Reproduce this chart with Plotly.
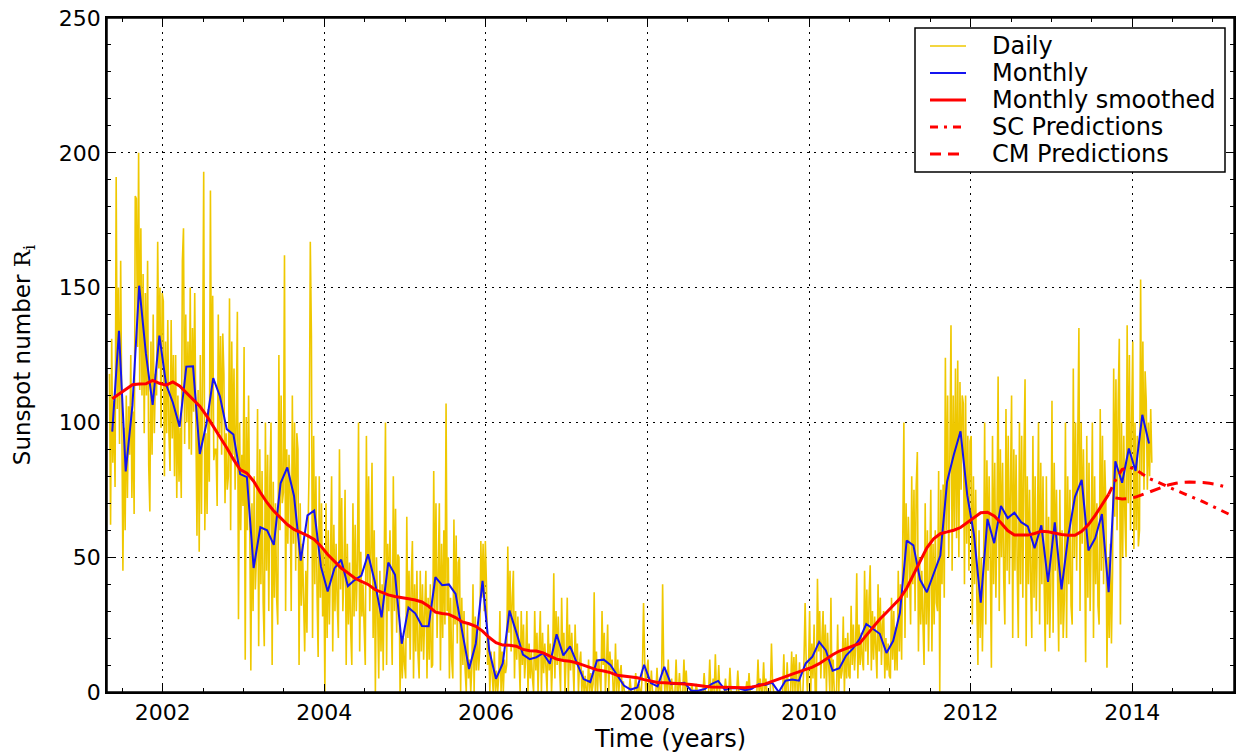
import plotly.graph_objects as go

# ---------------- data ----------------
# Daily values: 6 samples per month, months listed in order
daily_2001 = [118, 62, 131, 85, 108, 76,  191, 105, 150, 92, 160, 106,  45, 98, 60, 110, 72, 106,
              88, 125, 72, 104, 66, 184,  183, 128, 200, 112, 172, 110,  155, 96, 148, 110, 160, 84,
              67, 130, 88, 140, 96, 118,  110, 167, 120, 150, 98, 148]
daily_2002 = [145, 80, 130, 96, 138, 96,  82, 138, 94, 125, 80, 125,  72, 110, 78, 98, 72, 160,
              172, 92, 140, 100, 130, 90,  150, 88, 135, 104, 148, 100,  58, 112, 52, 125, 66, 117,
              193, 60, 96, 66, 105, 78,  186, 100, 147, 86, 90, 90,  69, 140, 96, 132, 88, 133,
              118, 70, 96, 75, 80, 146,  60, 130, 88, 120, 75, 100,  141, 27, 100, 60, 88, 69]
daily_2003 = [128, 12, 102, 60, 110, 66,  8, 70, 30, 80, 38, 50,  105, 17, 90, 40, 82, 33,
              17, 100, 45, 88, 30, 80,  100, 10, 78, 35, 70, 35,  25, 125, 60, 110, 70, 74,
              162, 30, 90, 55, 88, 75,  30, 110, 55, 100, 45, 96,  90, 10, 70, 32, 55, 35,
              15, 45, 22, 60, 84, 167,  132, 20, 95, 40, 80, 37,  13, 80, 35, 70, 28, 53]
daily_2004 = [0, 70, 20, 60, 25, 49,  80, 15, 62, 30, 55, 33,  20, 90, 38, 72, 30, 45,
              75, 10, 55, 25, 48, 23,  10, 70, 28, 62, 30, 49,  100, 15, 52, 28, 40, 24,
              10, 95, 40, 80, 30, 52,  85, 20, 60, 0, 50, 30,  5, 45, 15, 40, 8, 53,
              100, 10, 55, 30, 60, 33,  10, 80, 30, 68, 22, 51,  50, 0, 22, 5, 20, 10]
daily_2005 = [5, 65, 20, 45, 12, 41,  56, 5, 40, 15, 45, 14,  5, 45, 15, 40, 12, 30,
              45, 5, 35, 12, 40, 9,  10, 82, 30, 70, 20, 44,  70, 8, 55, 20, 60, 25,
              107, 30, 50, 5, 35, 12,  5, 64, 25, 58, 18, 48,  50, 0, 35, 10, 30, 8,
              0, 25, 5, 12, 0, 9,  40, 0, 28, 8, 24, 8,  15, 56, 35, 55, 30, 56]
daily_2006 = [40, 10, 20, 0, 15, 7,  0, 15, 0, 8, 0, 6,  30, 0, 15, 0, 12, 7,
              10, 54, 22, 45, 15, 35,  45, 5, 30, 12, 28, 14,  0, 30, 10, 25, 5, 13,
              30, 0, 18, 5, 15, 5,  0, 30, 8, 22, 0, 17,  30, 0, 22, 7, 18, 9,
              0, 25, 8, 18, 0, 12,  44, 5, 30, 10, 28, 11,  0, 35, 12, 22, 0, 13]
daily_2007 = [35, 0, 25, 8, 22, 11,  0, 25, 10, 18, 0, 11,  15, 0, 8, 0, 6, 0,
              0, 12, 0, 7, 0, 3,  37, 0, 15, 0, 12, 6,  0, 30, 10, 22, 0, 10,
              25, 0, 15, 8, 12, 0,  0, 18, 0, 12, 0, 7,  10, 0, 4, 0, 0, 0,
              0, 0, 5, 0, 0, 0,  0, 7, 0, 0, 3, 0,  0, 8, 33, 12, 0, 8]
daily_2008 = [12, 0, 0, 8, 0, 0,  0, 0, 9, 0, 4, 0,  0, 40, 8, 0, 8, 0,
              12, 0, 0, 5, 0, 0,  0, 12, 0, 0, 7, 0,  0, 0, 12, 0, 8, 0,
              0, 0, 0, 3, 0, 0,  0, 3, 0, 0, 0, 0,  0, 0, 7, 0, 0, 0,
              0, 12, 0, 0, 5, 0,  14, 0, 0, 10, 0, 0,  0, 0, 0, 5, 0, 0]
daily_2009 = [0, 9, 0, 0, 0, 0,  0, 0, 8, 0, 0, 0,  0, 0, 0, 0, 4, 0,
              7, 0, 0, 0, 0, 0,  0, 0, 12, 0, 5, 0,  0, 11, 0, 5, 0, 0,
              0, 0, 18, 3, 0, 0,  0, 0, 0, 0, 0, 0,  0, 14, 0, 0, 11, 0,
              0, 0, 15, 0, 13, 0,  14, 0, 0, 11, 0, 0,  0, 12, 33, 10, 0, 9]
daily_2010 = [30, 0, 18, 5, 25, 0,  0, 42, 15, 30, 5, 20,  30, 5, 25, 0, 22, 10,
              0, 35, 0, 12, 0, 0,  0, 25, 0, 15, 5, 8,  28, 0, 20, 5, 22, 6,
              5, 32, 10, 25, 8, 17,  44, 5, 25, 10, 22, 12,  8, 45, 15, 38, 10, 35,
              47, 8, 30, 12, 28, 16,  5, 40, 15, 35, 10, 25,  30, 5, 20, 8, 18, 6]
daily_2011 = [5, 35, 12, 30, 8, 24,  8, 45, 15, 40, 12, 56,  100, 20, 70, 35, 65, 47,
              25, 80, 40, 75, 30, 76,  89, 15, 50, 25, 45, 26,  10, 70, 25, 60, 15, 42,
              75, 15, 55, 25, 60, 33,  30, 82, 0, 75, 40, 77,  35, 124, 60, 110, 50, 89,
              136, 45, 110, 60, 120, 57,  123, 50, 115, 75, 110, 107,  40, 110, 55, 95, 45, 93]
daily_2012 = [95, 25, 80, 40, 75, 35,  10, 60, 20, 50, 15, 44,  100, 25, 86, 45, 80, 49,
              9, 95, 40, 85, 35, 67,  117, 30, 90, 50, 85, 42,  25, 105, 45, 95, 40, 77,
              110, 20, 90, 45, 88, 46,  20, 100, 40, 95, 35, 88,  116, 17, 80, 40, 75, 40,
              20, 95, 35, 80, 30, 60,  100, 25, 85, 40, 80, 41,  15, 80, 25, 65, 20, 40]
daily_2013 = [108, 22, 85, 45, 75, 42,  15, 75, 25, 60, 20, 34,  100, 20, 80, 40, 75, 32,
              25, 120, 50, 100, 45, 94,  135, 30, 100, 55, 90, 62,  11, 95, 35, 85, 30, 59,
              100, 20, 80, 40, 70, 32,  25, 105, 45, 95, 40, 86,  70, 9, 50, 20, 55, 18,
              45, 120, 65, 116, 60, 108,  131, 25, 100, 50, 95, 65,  50, 136, 70, 125, 60, 101]
daily_2014 = [130, 53, 100, 60, 95, 54,  60, 153, 80, 130, 75, 119,  108, 75, 100, 80, 105, 85]

daily_blocks = [(2001, 5, daily_2001), (2002, 1, daily_2002), (2003, 1, daily_2003),
                (2004, 1, daily_2004), (2005, 1, daily_2005), (2006, 1, daily_2006),
                (2007, 1, daily_2007), (2008, 1, daily_2008), (2009, 1, daily_2009),
                (2010, 1, daily_2010), (2011, 1, daily_2011), (2012, 1, daily_2012),
                (2013, 1, daily_2013), (2014, 1, daily_2014)]
SAMPLES_PER_MONTH = 6

# Monthly mean values, starting May 2001
monthly_start = (2001, 5)
monthly_values = [96.6, 134.0, 81.8, 106.4, 150.7, 125.5, 106.5, 132.2,
                  114.1, 107.4, 98.4, 120.7, 120.8, 88.3, 99.6, 116.4, 109.6, 97.5, 95.5, 80.8,
                  79.7, 46.0, 61.1, 60.0, 54.6, 77.4, 83.3, 72.7, 48.7, 65.5, 67.3, 46.5,
                  37.3, 45.8, 49.1, 39.3, 41.5, 43.2, 51.1, 40.9, 27.7, 48.0, 43.5, 17.9,
                  31.3, 29.2, 24.5, 24.4, 42.6, 39.6, 39.9, 36.4, 22.1, 8.5, 18.0, 41.2,
                  15.3, 4.9, 10.6, 30.2, 22.3, 13.9, 12.2, 12.9, 14.4, 10.5, 21.4, 13.6,
                  16.9, 10.6, 4.8, 3.7, 11.7, 12.0, 10.0, 6.2, 2.4, 0.9, 1.7, 10.1,
                  3.3, 2.1, 9.3, 2.9, 3.2, 3.4, 0.5, 0.5, 1.1, 2.9, 4.1, 0.8,
                  1.5, 1.4, 0.7, 1.2, 2.9, 2.6, 3.5, 0.0, 4.2, 4.6, 4.2, 10.6,
                  13.1, 18.6, 15.4, 7.9, 8.8, 13.5, 16.1, 19.6, 25.2, 23.5, 21.6, 14.5,
                  19.0, 29.4, 56.2, 54.4, 41.6, 37.0, 43.9, 50.6, 78.0, 88.0, 96.7, 73.0,
                  58.3, 33.1, 64.2, 55.2, 69.0, 64.5, 66.5, 63.0, 61.4, 53.3, 61.8, 40.8,
                  62.9, 38.1, 57.9, 72.4, 78.7, 52.5, 57.0, 66.0, 37.0, 85.6, 77.6, 90.3,
                  82.0, 102.8, 92.2]

# 13-month smoothed values, starting May 2001
smoothed_values = [108.8, 110.5, 112.5, 114.0, 114.2, 114.3, 115.6, 114.5, 113.8, 115.0,
                   113.5, 111.0, 108.5, 106.0, 102.5, 98.6, 95.0, 90.6, 86.3, 82.5,
                   81.2, 78.2, 74.0, 70.2, 67.1, 64.6, 62.1, 60.3, 59.3, 58.0,
                   56.6, 54.1, 51.0, 48.5, 46.0, 44.2, 42.3, 41.0, 39.9, 38.0,
                   36.9, 36.0, 35.4, 35.1, 34.6, 34.1, 33.4, 31.8, 29.6, 29.1,
                   28.8, 27.6, 26.0, 25.3, 24.4, 22.6, 20.2, 18.3, 17.4, 17.3,
                   17.0, 15.8, 15.3, 15.2, 14.5, 13.3, 12.2, 11.7, 11.4, 10.8,
                   9.9, 9.0, 8.2, 7.8, 7.2, 6.2, 5.9, 5.8, 5.3, 4.6,
                   4.0, 3.5, 3.4, 3.3, 3.3, 3.0, 2.8, 2.4, 2.1, 1.9,
                   1.8, 1.7, 1.6, 1.6, 1.6, 1.9, 2.3, 3.0, 4.0, 4.8,
                   5.7, 6.6, 7.4, 8.2, 9.2, 10.5, 12.2, 13.8, 15.2, 16.2,
                   17.0, 18.0, 21.0, 24.0, 27.0, 29.5, 32.0, 34.7, 38.5, 43.6,
                   48.2, 53.5, 56.8, 58.7, 59.4, 60.0, 61.0, 62.8, 64.8, 66.5,
                   66.7, 65.3, 62.8, 59.9, 58.2, 58.1, 58.2, 58.8, 59.6, 59.4,
                   58.8, 58.4, 58.1, 58.1, 59.6, 62.1, 65.5, 69.2, 73.3]

# Predictions (monthly)
sc_start = (2013, 9)
sc_values = [73.3, 78.5, 82.5, 83.5, 82.5, 80.8, 79.2, 78.2, 77.0, 75.8,
             74.8, 73.8, 72.8, 71.8, 70.6, 69.4, 68.3, 67.0, 65.8]
cm_start = (2013, 10)
cm_values = [72.0, 71.6, 71.7, 72.3, 73.2, 74.2, 75.2, 76.1, 76.9, 77.4,
             77.8, 77.9, 77.9, 77.7, 77.4, 77.0, 76.3]

x_ticks = [2002, 2004, 2006, 2008, 2010, 2012, 2014]
y_ticks = [0, 50, 100, 150, 200, 250]
legend_names = ["Daily", "Monthly", "Monthly smoothed", "SC Predictions", "CM Predictions"]


# ---------------- helpers for time positions ----------------
def month_mid(year, month, offset):
    m = month - 1 + offset
    return year + (m + 0.5) / 12.0


daily_t, daily_v = [], []
for year, month, vals in daily_blocks:
    for k, v in enumerate(vals):
        mi, si = divmod(k, SAMPLES_PER_MONTH)
        t = year + (month - 1 + mi) / 12.0 + (si + 0.5) / (12.0 * SAMPLES_PER_MONTH)
        daily_t.append(t)
        daily_v.append(v)

monthly_t = [month_mid(*monthly_start, i) for i in range(len(monthly_values))]
smoothed_t = [month_mid(*monthly_start, i) for i in range(len(smoothed_values))]
sc_t = [month_mid(*sc_start, i) for i in range(len(sc_values))]
cm_t = [month_mid(*cm_start, i) for i in range(len(cm_values))]

FONT = "DejaVu Sans"
W, H = 1240, 756
ML, MR, MT, MB = 107, 6, 18, 64
PW, PH = W - ML - MR, H - MT - MB

styles = [
    dict(color="#EFC800", width=1.6),
    dict(color="#1414F0", width=2),
    dict(color="#FF0000", width=3),
    dict(color="#FF0000", width=3, dash="8px,6px,3px,6px"),
    dict(color="#FF0000", width=3, dash="11px,7px"),
]
series = [(daily_t, daily_v), (monthly_t, monthly_values), (smoothed_t, smoothed_values),
          (sc_t, sc_values), (cm_t, cm_values)]

fig = go.Figure()
for (xs, ys), name, st in zip(series, legend_names, styles):
    fig.add_trace(go.Scatter(x=xs, y=ys, mode="lines", name=name, line=st, showlegend=False))

# invisible trace to activate the mirrored (top/right) axes carrying minor ticks
fig.add_trace(go.Scatter(x=[None], y=[None], xaxis="x2", yaxis="y2", mode="lines",
                         showlegend=False, hoverinfo="skip"))

axis_common = dict(
    showline=True, linecolor="black", linewidth=1.5, mirror=True,
    ticks="inside", ticklen=8, tickwidth=1, tickcolor="black",
    zeroline=False, automargin=False,
)
grid = dict(showgrid=True, gridcolor="black", gridwidth=1, griddash="2px,5px")
tickfont = dict(family=FONT, size=22, color="black")
XR = [2001.31, 2015.26]
YR = [0, 250]

fig.update_layout(
    xaxis=dict(range=XR, tickvals=x_ticks, ticktext=[str(v) for v in x_ticks], tickfont=tickfont,
               ticklabeloverflow="allow",
               title=dict(text="Time (years)", font=dict(family=FONT, size=24, color="black"), standoff=4),
               minor=dict(dtick=0.5, tick0=2002, ticks="inside", ticklen=4, tickcolor="black", showgrid=False),
               **grid, **axis_common),
    yaxis=dict(range=YR, tickvals=y_ticks, tickfont=tickfont, ticklabeloverflow="allow",
               title=dict(text="Sunspot number <span style='font-family:DejaVu Serif'>R<sub>i</sub></span>",
                          font=dict(family=FONT, size=23, color="black"), standoff=22),
               minor=dict(dtick=10, ticks="inside", ticklen=4, tickcolor="black", showgrid=False),
               **grid, **axis_common),
    xaxis2=dict(range=XR, overlaying="x", side="top", tickvals=x_ticks, showticklabels=False,
                showgrid=False,
                minor=dict(dtick=0.5, tick0=2002, ticks="inside", ticklen=4, tickcolor="black", showgrid=False),
                **axis_common),
    yaxis2=dict(range=YR, overlaying="y", side="right", tickvals=y_ticks, showticklabels=False,
                showgrid=False,
                minor=dict(dtick=10, ticks="inside", ticklen=4, tickcolor="black", showgrid=False),
                **axis_common),
    width=W, height=H,
    margin=dict(l=ML, r=MR, t=MT, b=MB),
    plot_bgcolor="white", paper_bgcolor="white",
    font=dict(family=FONT, color="black"),
    showlegend=False,
)

# frame around the plotting area
fig.add_shape(type="rect", xref="paper", yref="paper", x0=0, x1=1, y0=0, y1=1,
              line=dict(color="black", width=1.5), fillcolor="rgba(0,0,0,0)", layer="above")


# ---------------- legend drawn in paper coordinates (page pixels in) ----------------
def px_x(px):
    return (px - ML) / PW


def px_y(py):
    return (H - MB - py) / PH


box = dict(x0=915, x1=1225, y0=28, y1=172)
fig.add_shape(type="rect", xref="paper", yref="paper",
              x0=px_x(box["x0"]), x1=px_x(box["x1"]), y0=px_y(box["y1"]), y1=px_y(box["y0"]),
              line=dict(color="black", width=1.5), fillcolor="white", layer="above")
row_y = [46, 73, 100, 127, 154]
for name, st, ry in zip(legend_names, styles, row_y):
    fig.add_shape(type="line", xref="paper", yref="paper",
                  x0=px_x(930), x1=px_x(966), y0=px_y(ry), y1=px_y(ry),
                  line=st, layer="above")
    fig.add_annotation(xref="paper", yref="paper", x=px_x(990), y=px_y(ry),
                       xanchor="left", yanchor="middle", showarrow=False, text=name,
                       font=dict(family=FONT, size=24, color="black"))

fig.write_html("out.html",
               config={"displayModeBar": False},
               post_script="document.body.style.margin='0px';document.body.style.overflow='hidden';")
